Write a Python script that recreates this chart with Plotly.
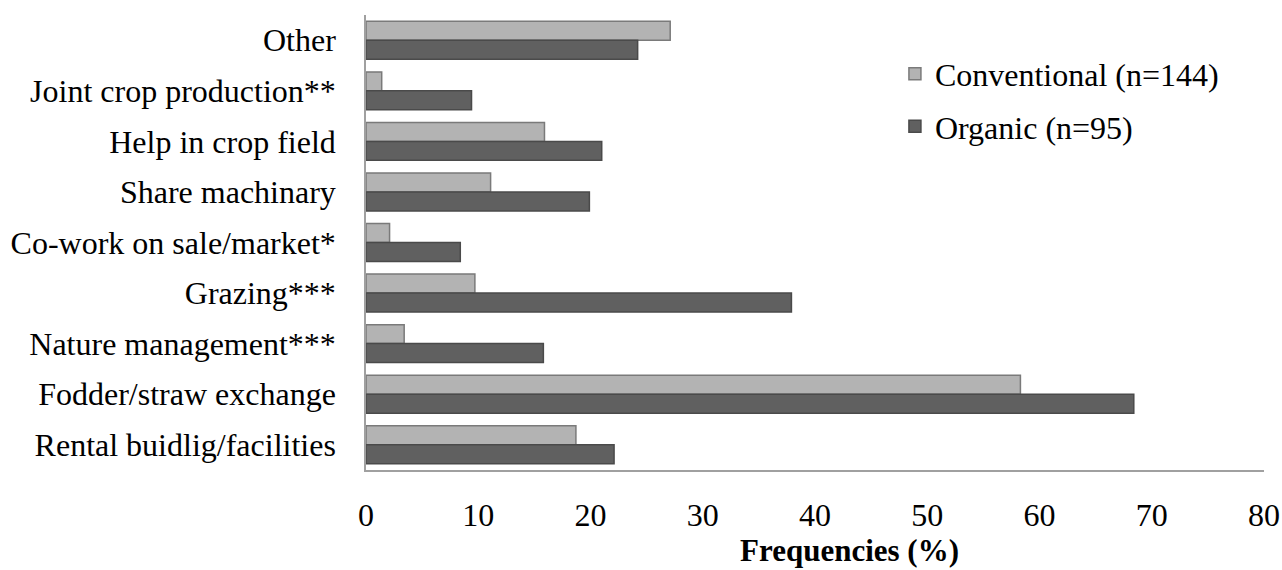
import plotly.graph_objects as go

categories = ["Other", "Joint crop production**", "Help in crop field", "Share machinary",
              "Co-work on sale/market*", "Grazing***", "Nature management***",
              "Fodder/straw exchange", "Rental buidlig/facilities"]
conventional = [27.1, 1.4, 15.9, 11.1, 2.1, 9.7, 3.4, 58.3, 18.7]
organic = [24.2, 9.4, 21.0, 19.9, 8.4, 37.9, 15.8, 68.4, 22.1]
x_ticks = [0, 10, 20, 30, 40, 50, 60, 70, 80]
x_title = "Frequencies (%)"

FONT = "Liberation Serif, Times New Roman, serif"

fig = go.Figure()
fig.add_trace(go.Bar(y=categories, x=conventional, orientation="h", name="Conventional (n=144)",
                     marker=dict(color="#b3b3b3", line=dict(color="#7a7a7a", width=1.5)),
                     legendgroup="a"))
fig.add_trace(go.Bar(y=categories, x=organic, orientation="h", name="Organic (n=95)",
                     marker=dict(color="#606060", line=dict(color="#4a4a4a", width=1.5)),
                     legendgroup="b"))

fig.update_layout(
    width=1282, height=570,
    margin=dict(l=366, r=18, t=15, b=100),
    plot_bgcolor="white", paper_bgcolor="white",
    barmode="group", bargap=0.25, bargroupgap=0,
    font=dict(family=FONT, size=32, color="black"),
    showlegend=True,
    legend=dict(x=0.589, y=0.931, xanchor="left", yanchor="top", font=dict(size=32),
                tracegroupgap=8, bgcolor="rgba(0,0,0,0)", itemwidth=30),
    xaxis=dict(range=[0, 80], tickvals=x_ticks, showgrid=False, zeroline=False,
               showline=True, linecolor="#a0a0a0", linewidth=1.5,
               ticks="outside", ticklen=16, tickcolor="rgba(0,0,0,0)",
               tickfont=dict(size=32), automargin=False),
    yaxis=dict(categoryorder="array", categoryarray=categories, autorange="reversed",
               showgrid=False, zeroline=False, showline=True, linecolor="#a0a0a0", linewidth=1.5,
               ticks="outside", ticklen=22, tickcolor="rgba(0,0,0,0)", tickfont=dict(size=32),
               automargin=False),
    annotations=[dict(text="<b>" + x_title + "</b>", xref="paper", yref="paper",
                      x=0.538, y=0, yshift=-80, xanchor="center", yanchor="middle",
                      showarrow=False, font=dict(size=31))],
)

fig.write_html("out.html", config={"displayModeBar": False},
               post_script="document.body.style.margin='0';document.body.style.overflow='hidden';")
